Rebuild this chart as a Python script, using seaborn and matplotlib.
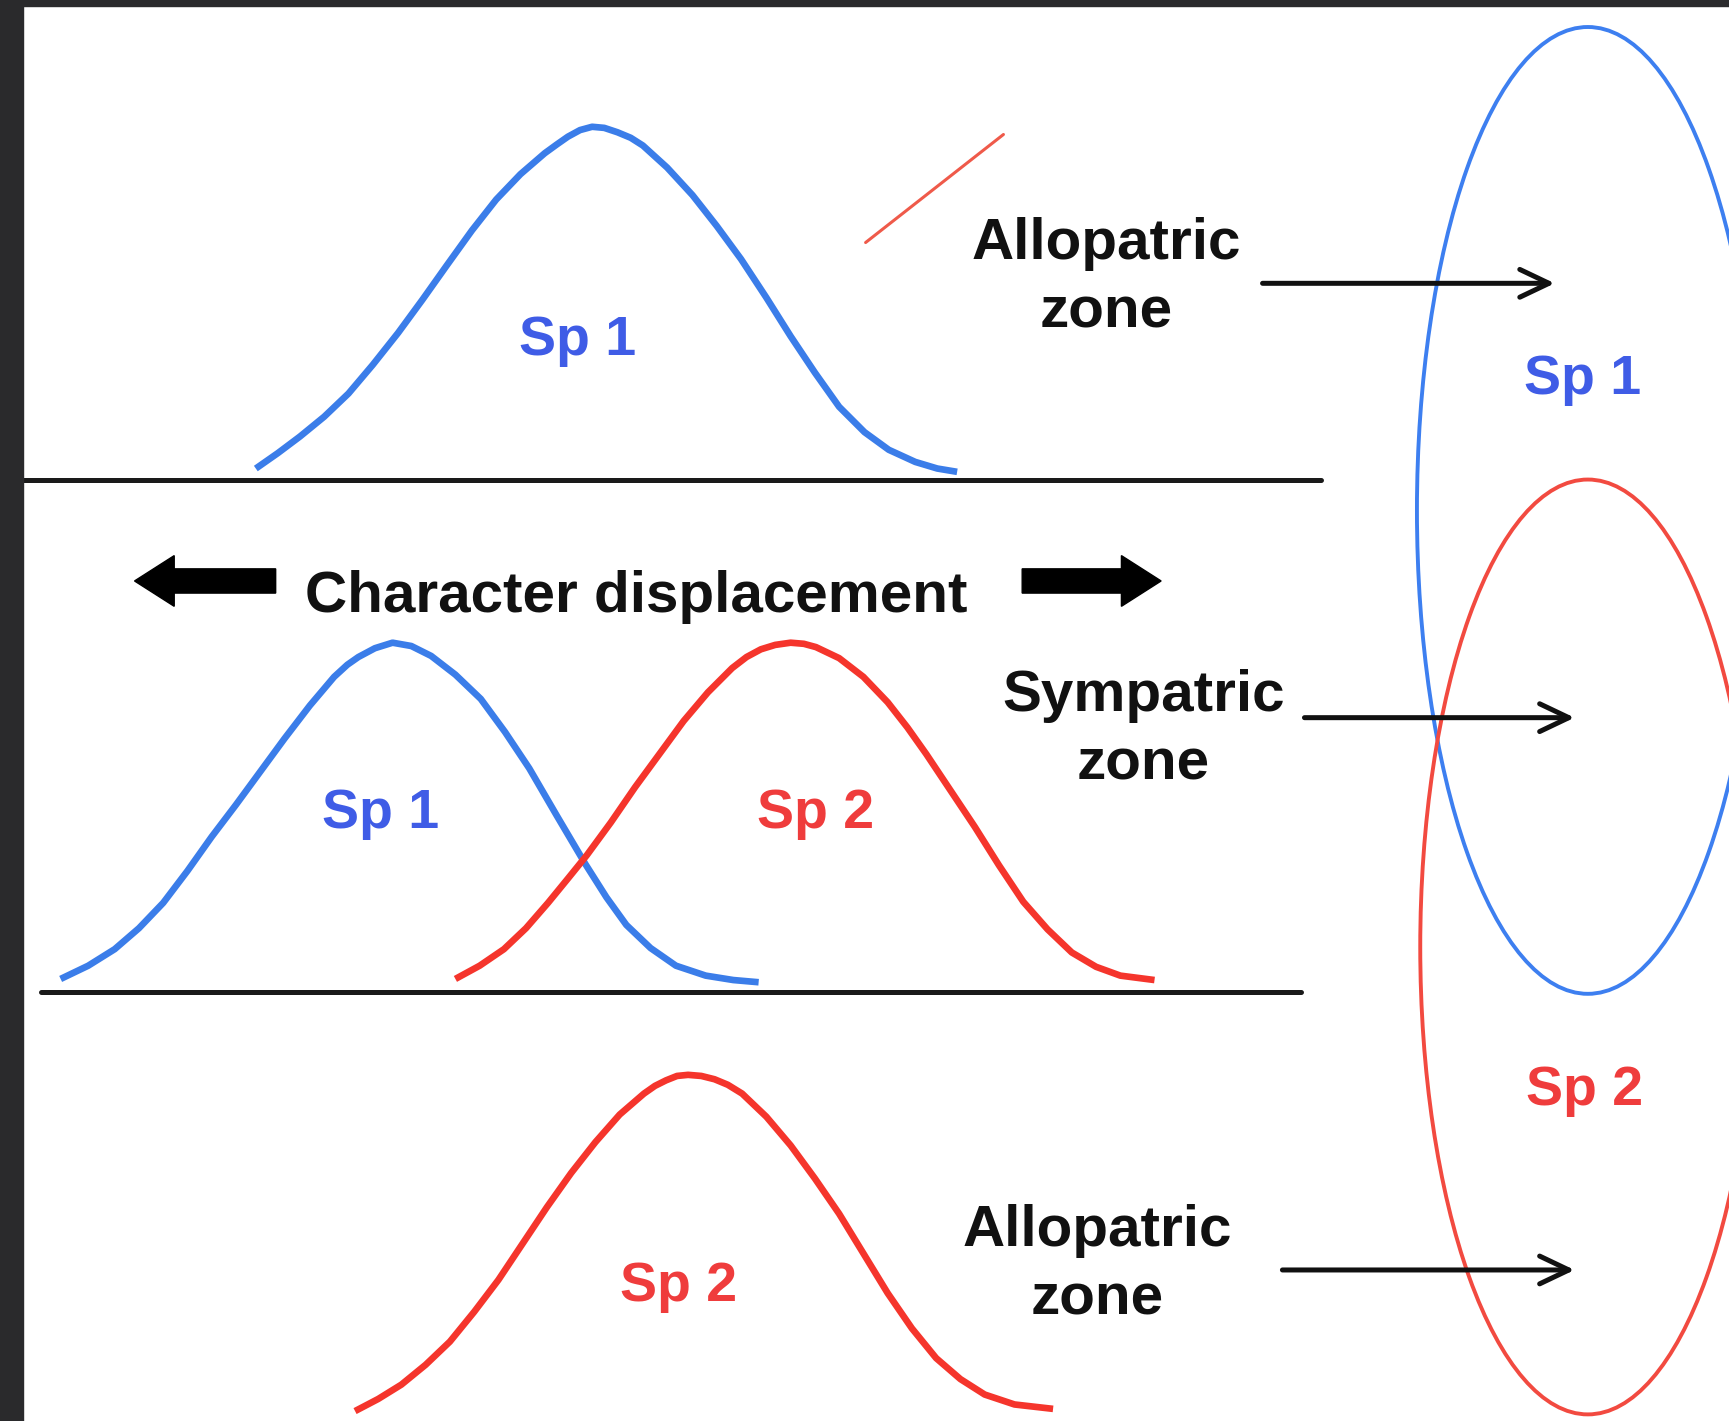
import matplotlib
matplotlib.use("Agg")
import matplotlib.pyplot as plt
import seaborn as sns
from matplotlib.patches import Ellipse, Rectangle

sns.set_style("white")
plt.rcParams['font.family'] = ['Liberation Sans', 'DejaVu Sans']

# Curvas de distribución (coordenadas, eje y hacia abajo)
top_sp1_x = [232, 252, 272, 294, 316, 338, 361, 383, 405, 428, 450, 472, 494, 505, 515, 526, 537,
             548, 560, 572, 583, 605, 628, 650, 672, 695, 717, 739, 761, 784, 806, 830, 850, 868]
top_sp1_y = [425, 411, 396, 378, 357, 331, 302, 272, 241, 209, 181, 158, 139, 131, 124, 118, 115,
             116, 120, 125, 132, 152, 177, 205, 235, 270, 305, 338, 369, 392, 408, 419, 425, 428]

mid_sp1_x = [55, 80, 104, 126, 148, 170, 192, 214, 236, 258, 281, 303, 315, 325, 340, 356,
             373, 391, 413, 436, 458, 480, 505, 531, 550, 568, 590, 613, 640, 665, 688]
mid_sp1_y = [888, 876, 861, 842, 819, 790, 759, 730, 700, 670, 640, 614, 603, 596, 588, 583,
             586, 595, 612, 634, 664, 697, 740, 784, 814, 839, 860, 876, 885, 889, 891]

mid_sp2_x = [413, 435, 457, 477, 497, 515, 532, 554, 576, 598, 620, 642, 664, 677, 690, 703, 717,
             729, 740, 761, 783, 805, 823, 840, 862, 884, 906, 928, 950, 972, 994, 1016, 1047]
mid_sp2_y = [888, 876, 861, 842, 819, 797, 776, 746, 714, 684, 654, 628, 606, 596, 589, 585, 583,
             584, 587, 597, 614, 637, 660, 684, 717, 750, 785, 818, 843, 864, 877, 885, 889]

bot_sp2_x = [322, 343, 364, 386, 408, 430, 452, 474, 496, 518, 540, 562, 584, 594, 604, 614, 624,
             636, 648, 660, 673, 695, 717, 739, 761, 783, 805, 827, 849, 871, 893, 920, 955]
bot_sp2_y = [1280, 1269, 1256, 1238, 1217, 1190, 1161, 1128, 1095, 1064, 1036, 1011, 992, 985, 980, 976, 975,
             976, 979, 984, 992, 1013, 1039, 1069, 1101, 1137, 1173, 1205, 1232, 1251, 1265, 1274, 1278]

# Elipses de distribución geográfica: centro x, centro y, ancho, alto
ell_labels = ['Sp 1', 'Sp 2']
ell_cx = [1440, 1440]
ell_cy = [463, 859]
ell_w = [310, 304]
ell_h = [877, 848]

# Textos
zone_labels = [('Allopatric', 'zone'), ('Sympatric', 'zone'), ('Allopatric', 'zone')]

BLUE = '#3b7de9'
RED = '#f5352c'
BLUE_TXT = '#3f5ce6'
RED_TXT = '#ef3c3c'

fig = plt.figure(figsize=(17.29, 14.21), dpi=100)
ax = fig.add_axes([0, 0, 1, 1])
ax.set_xlim(0, 1568)
ax.set_ylim(1289, 0)
ax.axis('off')

# Marco oscuro
ax.add_patch(Rectangle((0, 0), 21, 1289, color='#2a2a2c', zorder=5))
ax.add_patch(Rectangle((0, 0), 1568, 5, color='#2a2a2c', zorder=5))

# Líneas base
ax.plot([20, 1198], [435, 435], color='#1a1a1a', lw=3.6)
ax.plot([37, 1180], [900, 900], color='#1a1a1a', lw=3.6)

# Curvas
for xs, ys, c in [(top_sp1_x, top_sp1_y, BLUE), (mid_sp1_x, mid_sp1_y, BLUE),
                  (mid_sp2_x, mid_sp2_y, RED), (bot_sp2_x, bot_sp2_y, RED)]:
    sns.lineplot(x=xs, y=ys, ax=ax, color=c, lw=4.8, sort=False, estimator=None,
                 solid_capstyle='butt', solid_joinstyle='round')

# Elipses
for cx, cy, w, h, c in zip(ell_cx, ell_cy, ell_w, ell_h, ['#3d7ff0', '#f24a40']):
    ax.add_patch(Ellipse((cx, cy), w, h, fill=False, ec=c, lw=2.8))

# Línea roja diagonal
ax.plot([785, 910], [220, 122], color='#ef5a4a', lw=2.2)

# Flechas finas
for y0, x0, x1 in [(257, 1145, 1410), (651, 1183, 1428), (1152, 1163, 1428)]:
    ax.annotate('', xy=(x1, y0), xytext=(x0, y0),
                arrowprops=dict(arrowstyle='->,head_length=1.05,head_width=0.5',
                                lw=3.6, color='#111111', mutation_scale=20,
                                shrinkA=0, shrinkB=0))

# Flechas gruesas
ax.arrow(250, 527, -128, 0, width=22, head_width=46, head_length=36,
         length_includes_head=True, color='black')
ax.arrow(927, 527, 126, 0, width=22, head_width=46, head_length=36,
         length_includes_head=True, color='black')

fs = 42
ax.text(577, 555, 'Character displacement', fontsize=fs, fontweight='bold',
        ha='center', va='baseline', color='#111111')

for (l1, l2), cx, by in zip(zone_labels, [1003, 1037, 995], [235, 645, 1130]):
    ax.text(cx, by, l1, fontsize=fs, fontweight='bold', ha='center', va='baseline', color='#111111')
    ax.text(cx, by + 62, l2, fontsize=fs, fontweight='bold', ha='center', va='baseline', color='#111111')

# Etiquetas de especies
for txt, x, y, c in [('Sp 1', 524, 322, BLUE_TXT), ('Sp 1', 345, 751, BLUE_TXT),
                     ('Sp 2', 740, 751, RED_TXT), ('Sp 2', 615, 1180, RED_TXT),
                     (ell_labels[0], 1435, 357, BLUE_TXT), (ell_labels[1], 1437, 1002, RED_TXT)]:
    ax.text(x, y, txt, fontsize=40, fontweight='bold', ha='center', va='baseline', color=c)

fig.savefig('out.png', dpi=100, facecolor='white')
